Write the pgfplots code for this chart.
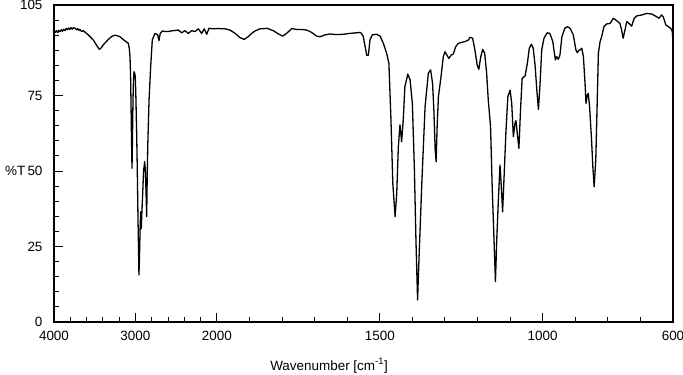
\documentclass[border=0pt]{standalone}
\usepackage{fontspec}
\setmainfont{Liberation Sans}
\usepackage{pgfplots}
\pgfplotsset{compat=1.18}
\usepackage{pgfplotstable}
\pgfplotstableread{
w T
4000 96.0
3988 95.9
3970 96.5
3955 95.8
3940 96.6
3926 96.2
3910 96.8
3895 96.3
3880 97.0
3865 96.5
3850 97.2
3835 96.8
3820 97.4
3804 96.9
3790 97.5
3775 97.0
3760 97.5
3742 97.3
3725 96.8
3710 97.2
3695 96.6
3681 96.9
3660 96.2
3640 96.5
3610 95.8
3579 95.1
3550 94.3
3517 93.4
3480 91.8
3444 90.3
3420 90.8
3395 91.8
3360 92.8
3333 93.6
3290 94.6
3251 95.0
3220 94.8
3190 94.5
3160 93.8
3128 93.1
3088 92.3
3075 90.5
3067 87.9
3060 82.0
3055 73.5
3048 60.0
3042 50.9
3036 62.0
3030 73.5
3024 80.0
3018 82.9
3010 82.5
3002 81.3
2995 75.0
2985 62.5
2977 50.0
2969 34.9
2962 24.0
2957 15.6
2950 22.0
2944 29.4
2936 36.5
2928 31.0
2920 37.0
2911 42.6
2900 50.0
2887 53.1
2880 51.0
2874 47.0
2868 41.0
2862 34.9
2856 47.0
2849 58.1
2833 73.5
2813 84.6
2793 93.4
2760 95.6
2740 95.3
2727 95.1
2711 93.2
2700 95.0
2695 95.6
2670 96.4
2635 96.2
2597 96.2
2565 96.4
2535 96.5
2474 96.7
2432 95.8
2392 96.5
2351 95.6
2309 96.5
2269 96.2
2228 97.1
2187 95.6
2155 97.1
2125 95.3
2097 97.3
2044 97.1
1996 97.2
1975 97.1
1960 96.7
1944 95.6
1929 94.2
1916 93.6
1904 94.5
1893 95.6
1883 96.4
1868 97.1
1852 97.2
1847 97.3
1827 96.5
1811 95.4
1798 94.7
1786 95.6
1770 97.2
1755 96.9
1740 96.9
1724 96.7
1709 95.9
1694 94.7
1683 94.5
1668 95.1
1653 95.4
1632 95.2
1612 95.3
1591 95.6
1571 95.8
1559 95.9
1551 94.7
1545 91.2
1540 88.3
1535 88.4
1530 93.5
1523 95.1
1510 95.3
1499 94.7
1489 92.3
1479 89.0
1472 85.7
1466 68.0
1460 45.9
1453 34.9
1448 42.6
1443 58.1
1438 65.3
1433 59.7
1428 66.9
1423 77.9
1414 82.1
1407 80.2
1400 72.4
1394 51.4
1389 27.2
1384 7.3
1379 22.8
1371 45.9
1361 71.3
1351 82.4
1344 83.5
1338 79.1
1334 70.2
1330 57.0
1327 53.1
1324 64.7
1320 74.6
1312 81.3
1305 87.9
1300 89.5
1294 88.4
1288 87.3
1281 88.4
1274 88.8
1267 91.2
1259 92.3
1249 92.6
1238 92.9
1228 93.4
1223 94.3
1215 94.0
1208 90.1
1201 85.1
1196 83.7
1190 87.9
1184 90.3
1178 89.0
1172 82.4
1167 73.5
1160 64.7
1155 44.8
1149 26.1
1145 13.4
1141 27.2
1136 40.4
1131 52.0
1127 44.8
1123 36.5
1118 49.3
1113 62.5
1107 74.6
1100 76.8
1095 72.4
1090 61.4
1085 65.8
1082 66.7
1078 62.5
1073 57.5
1068 70.2
1063 80.7
1054 81.5
1047 85.7
1041 90.7
1035 92.0
1029 90.7
1023 84.6
1018 76.8
1013 70.4
1008 79.1
1003 90.1
996 94.0
986 95.8
978 95.6
969 92.9
961 86.8
957 87.9
952 87.0
947 88.4
941 94.5
932 97.3
924 97.8
916 97.3
906 95.1
898 90.1
894 89.2
888 90.1
885 90.1
880 90.7
875 87.9
870 79.1
867 72.4
863 75.2
860 75.7
856 71.3
850 60.3
846 51.4
842 44.8
837 53.7
833 71.3
829 89.0
824 92.8
819 94.5
812 97.8
804 98.7
793 98.9
783 100.6
773 99.8
763 98.9
758 96.9
753 94.0
747 96.9
742 99.5
735 98.9
727 98.0
719 100.6
711 101.4
696 101.7
681 102.2
665 102.0
650 101.1
643 100.6
635 101.7
630 101.1
622 98.4
614 97.8
607 97.3
602 96.2
600 92.3
}\spectrum
\begin{document}
\begin{tikzpicture}
\begin{axis}[
  at={(54bp,53bp)}, anchor=south west,
  scale only axis, width=619bp, height=317bp,
  x coord trafo/.code={\pgfmathparse{min(#1,2000)+max(#1-2000,0)/4}},
  xmin=600, xmax=4000, x dir=reverse,
  ymin=0, ymax=105,
  axis line style={line width=1.2bp},
  tick pos=left, tick align=inside,
  major tick length=9bp, minor tick length=5bp,
  tick style={line width=1bp, black},
  xtick={4000,3000,2000,1500,1000,600},
  xticklabels={4000,3000,2000,1500,1000,600},
  minor xtick={3800,3600,3400,3200,2800,2600,2400,2200,1900,1800,1700,1600,1400,1300,1200,1100,900,800,700},
  ytick={0,25,50,75,105},
  minor ytick={5,10,15,20,30,35,40,45,55,60,65,70,80,85,90,95,100},
  /pgf/number format/assume math mode=true,
  ticklabel style={font=\fontsize{13.5}{16}\selectfont},
  xticklabel style={yshift=-6bp},
  yticklabel style={xshift=-8bp},
  clip mode=individual,
]
\addplot[black, line width=1.3bp, line join=round] table[x=w, y=T] {\spectrum};
\end{axis}
\node[anchor=west, font=\fontsize{13.5}{16}\selectfont, inner sep=0pt] at (5bp,204bp) {\%T};
\node[anchor=base, font=\fontsize{13.5}{16}\selectfont, inner sep=0pt] at (329bp,5bp) {Wavenumber [cm\textsuperscript{-1}]};
\pgfresetboundingbox
\path[use as bounding box] (0,0) rectangle (683bp,375bp);
\end{tikzpicture}
\end{document}
